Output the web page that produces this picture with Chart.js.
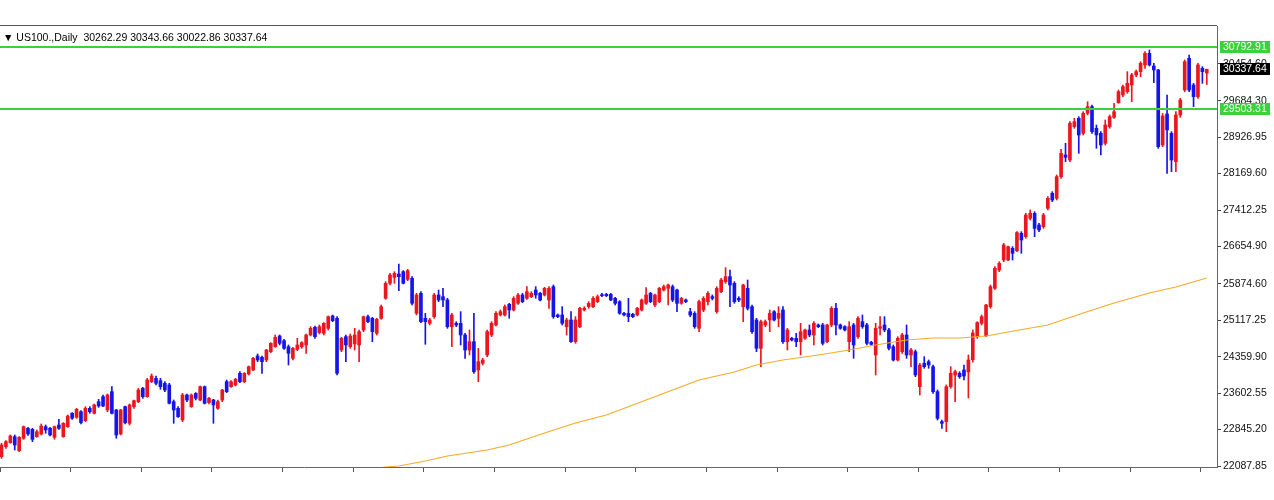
<!DOCTYPE html>
<html><head><meta charset="utf-8">
<script src="https://cdn.jsdelivr.net/npm/chart.js@4.4.0/dist/chart.umd.min.js"></script>
<style>html,body{margin:0;padding:0;background:#fff;}canvas{display:block;}</style>
</head><body>
<canvas id="c" width="1274" height="500"></canvas>
<script>
const symbolTitle = '\u25BC US100.,Daily';

const opens = [22282,22490,22574,22698,22407,22664,22872,22851,22698,22754,22906,22872,22685,22941,22698,22906,23184,23100,23218,23031,
23288,23184,23426,23530,23253,23634,23253,22754,23322,22976,23322,23426,23704,23530,23842,23912,23863,23808,23773,23426,
23288,23045,23565,23322,23600,23461,23738,23406,23461,23288,23461,23842,23738,23773,24016,23842,24002,24085,24376,24349,
24293,24466,24570,24792,24695,24570,24328,24515,24570,24605,24813,24972,24862,24848,24952,25208,25160,24501,24778,24570,
24626,24605,24917,25194,25160,24848,25160,25576,25888,26012,26082,26130,25971,25992,25264,25680,25160,25056,25194,25645,
25610,25541,24986,25056,25056,24813,24501,24674,24085,24224,24397,24813,25021,25229,25229,25451,25333,25472,25645,25576,
25610,25749,25680,25645,25541,25818,25229,25229,24986,25125,24674,24986,25333,25402,25402,25506,25645,25659,25659,25576,
25506,25264,25264,25243,25229,25333,25472,25680,25437,25506,25749,25784,25818,25749,25472,25541,25298,25264,24952,25333,
25506,25610,25298,25714,25922,26026,25888,25576,25402,25784,25402,25125,24536,25021,25125,25298,25160,25333,24674,24744,
24744,24674,24744,24917,24813,25021,25021,24674,25021,25368,25021,24986,24674,25021,24778,25090,25021,24660,24397,24952,
25021,24917,24570,24293,24466,24813,24397,24466,23738,24224,24258,24154,23634,23010,23010,23738,23981,24016,24085,24044,
24300,24778,25056,24800,25402,25784,26165,26373,26373,26616,26567,26928,26858,27240,27344,27101,27066,27448,27760,27656,
28106,28557,28453,29146,29320,29008,29424,29562,29112,29008,28800,29146,29340,29645,29805,29874,30013,30221,30290,30429,
30672,30408,30325,28765,29410,29008,28418,29389,29909,30568,30013,29770,30360,30262.29];

const highs = [22560,22615,22733,22733,22698,22920,22892,22872,22837,22962,22941,22892,22920,23059,22990,23149,23198,23288,23239,23322,
23322,23378,23475,23565,23586,23738,23267,23267,23336,23378,23461,23704,23724,23912,24002,23960,23912,23842,23808,23461,
23322,23600,23586,23586,23614,23752,23752,23517,23475,23461,23683,23877,23863,23912,24050,24030,24168,24349,24418,24376,
24515,24653,24813,24813,24723,24605,24556,24744,24674,24834,24986,25000,25021,25069,25208,25229,25194,24764,24813,24834,
24952,24917,25208,25229,25181,25160,25437,25922,26096,26130,26290,26151,26179,26026,25680,25714,25264,25160,25680,25749,
25784,25576,25264,25090,25298,24848,24917,25264,24536,24328,24917,25090,25298,25333,25437,25472,25610,25680,25680,25818,
25714,25818,25700,25804,25818,25853,25250,25402,25160,25298,25194,25388,25402,25506,25610,25645,25680,25680,25680,25596,
25527,25284,25576,25264,25388,25562,25797,25700,25666,25804,25853,25874,25853,25770,25596,25562,25368,25298,25541,25610,
25714,25645,25818,25992,26214,26165,25922,25610,25870,25957,25437,25160,25125,25125,25333,25319,25402,25402,24952,24764,
24848,25056,24938,25021,25090,25042,25056,25042,25402,25472,25042,25007,25090,25056,25194,25229,25056,24681,25056,25194,
25194,24952,24605,24778,24848,25021,24536,24501,24224,24362,24293,24189,23669,23045,23773,24154,24085,24050,24189,24397,
24917,25090,25229,25450,25853,26234,26338,26720,26664,26650,26962,26962,27344,27413,27378,27136,27344,27690,27794,28141,
28675,28800,29250,29320,29354,29458,29666,29597,29181,29042,29285,29389,29632,29909,30013,30290,30256,30325,30498,30706,
30741,30464,30339,29420,29805,29042,29458,29736,30533,30637,30048,30464,30394,30343.66];

const lows = [22248,22456,22560,22421,22386,22643,22726,22594,22685,22733,22768,22712,22643,22851,22685,22892,23059,23080,22962,23010,
23184,23170,23308,23322,23218,23170,22664,22733,22962,22941,23288,23406,23496,23517,23822,23773,23683,23634,23378,22976,
23100,23010,23426,23308,23461,23447,23378,23378,22976,23267,23426,23614,23724,23752,23822,23822,23981,24071,24258,24016,
24258,24446,24556,24605,24515,24189,24293,24487,24536,24432,24792,24744,24834,24813,24917,25090,23981,24466,24258,24536,
24501,24258,24882,25069,24674,24813,25139,25555,25853,25888,25735,25874,25943,25437,25229,25069,24619,25021,25160,25506,
25402,24952,24570,24986,24605,24328,24397,24016,23842,24189,24362,24778,25000,25208,25208,25160,25312,25451,25486,25555,
25590,25576,25520,25624,25368,25160,25173,25021,24813,24660,24640,24966,25312,25368,25381,25486,25610,25610,25527,25437,
25243,25208,25090,25173,25208,25312,25451,25486,25402,25486,25728,25437,25506,25298,25451,25486,25194,24952,24882,25298,
25437,25541,25264,25694,25888,25402,25472,25506,25090,25333,24848,24466,24154,24986,24882,25104,24986,24640,24501,24688,
24570,24397,24723,24778,24605,24966,24605,24653,24986,24813,24931,24896,24466,24328,24744,24952,24605,24598,23981,24813,
24882,24501,24272,24272,24432,24328,24154,23946,23565,24120,24120,23600,23045,22872,22802,23704,23426,23912,23877,23503,
24250,24744,25021,24778,25368,25763,26130,26338,26359,26373,26546,26512,26824,27205,26858,26962,27031,27413,27586,27621,
28072,28418,28418,29112,28592,28973,29389,29008,28696,28557,28765,29112,29320,29632,29770,29840,29666,30186,30186,30360,
30408,30062,28696,28730,28176,28210,28210,29340,29874,29874,29562,29736,30048,30022.86];

const closes = [22525,22594,22712,22525,22685,22906,22754,22643,22802,22920,22837,22733,22906,22872,22976,23128,23080,23267,22990,23288,
23218,23357,23336,23336,23565,23184,22733,23253,22990,23357,23447,23669,23530,23877,23960,23808,23738,23669,23392,23253,
23114,23565,23461,23565,23496,23738,23392,23496,23357,23426,23669,23634,23842,23891,23842,24016,24154,24328,24293,24258,
24501,24640,24764,24640,24536,24432,24536,24605,24653,24813,24952,24778,24986,25056,25194,25111,24016,24744,24605,24792,
24813,24882,25194,25090,24882,25139,25402,25888,26061,26096,26026,25888,26151,25472,25645,25090,25090,25125,25645,25541,
25541,24986,25229,25021,24813,24501,24674,24050,24258,24293,24882,25056,25264,25298,25402,25333,25576,25645,25506,25714,
25680,25645,25541,25784,25784,25194,25194,25056,25125,24674,25125,25368,25368,25472,25576,25610,25631,25631,25541,25472,
25264,25229,25194,25194,25368,25541,25645,25506,25645,25784,25818,25853,25541,25472,25576,25506,25229,24986,25506,25576,
25680,25576,25784,25957,26026,25853,25506,25541,25853,25368,24882,24536,25090,25090,25264,25125,25264,24674,24917,24709,
24674,24882,24917,24813,25056,24986,24640,25021,25368,25021,24952,24917,24986,24605,25160,24986,24640,24619,24952,24986,
24917,24536,24293,24744,24813,24397,24501,23981,24189,24154,24189,23634,23080,22976,23738,24016,24050,23946,23960,24293,
24855,25070,25194,25437,25818,26200,26304,26685,26650,26512,26942,26789,27309,27344,27031,26997,27309,27656,27621,28106,
28592,28508,29216,29250,28973,29424,29562,29042,28973,28765,29181,29354,29458,29874,29978,30048,30221,30290,30464,30672,
30429,30325,28730,29368,29077,28453,29389,29701,30498,29909,29770,30429,30290,30337.64];

const maIndex = [82,87,90,96,101,110,115,123,130,137,143,149,155,158,166,171,177,185,192,198,205,211,217,223,228,237,245,252,260,266,273];
const maValues = [21990,22067,22088,22192,22296,22421,22525,22774,22982,23149,23357,23565,23773,23877,24043,24189,24293,24397,24501,24605,24709,24750,24750,24792,24875,25020,25270,25478,25686,25811,25998];

const priceTicks = [30454.60,29684.30,28926.95,28169.60,27412.25,26654.90,25874.60,25117.25,24359.90,23602.55,22845.20,22087.85];
const levelLines = [30792.91, 29503.31];
const barsPerTimeTick = 16;

const UP = 'rgb(236,22,30)';
const DOWN = 'rgb(20,20,235)';
const LEVEL = 'rgb(60,208,60)';
const colors = closes.map((c, i) => c >= opens[i] ? UP : DOWN);
const bodyData = opens.map((o, i) => ({x: i, y: [o, closes[i]]}));
const wickData = lows.map((l, i) => ({x: i, y: [l, highs[i]]}));
const maData = maIndex.map((ix, k) => ({x: ix, y: maValues[k]}));

const FONT = '"Liberation Sans", Arial, sans-serif';
const last = closes.length - 1;

const overlay = {
  id: 'overlay',
  afterDraw(chart) {
    const {ctx, chartArea: a, scales: {y}} = chart;
    ctx.save();
    // level lines
    ctx.fillStyle = LEVEL;
    levelLines.forEach(v => {
      const py = Math.round(y.getPixelForValue(v));
      ctx.fillRect(a.left, py - 1, a.right - a.left, 2);
    });
    // top frame
    ctx.fillStyle = '#555';
    ctx.fillRect(0, a.top - 1, a.right, 1);
    // header
    ctx.fillStyle = '#000';
    ctx.font = '10.5px ' + FONT;
    ctx.textBaseline = 'middle';
    ctx.textAlign = 'left';
    const hdr = symbolTitle + '  ' + [opens[last], highs[last], lows[last], closes[last]].map(v => v.toFixed(2)).join(' ');
    ctx.fillText(hdr, 3, 38);
    // price boxes
    const box = (v, bg) => {
      const py = Math.round(y.getPixelForValue(v));
      ctx.fillStyle = bg;
      ctx.fillRect(a.right + 3, py - 6, 50, 12);
      ctx.fillStyle = '#fff';
      ctx.fillText(v.toFixed(2), a.right + 6, py + 0.5);
    };
    levelLines.forEach(v => box(v, LEVEL));
    box(closes[last], '#000');
    ctx.restore();
  }
};

new Chart(document.getElementById('c'), {
  type: 'bar',
  data: {
    datasets: [
      {type: 'line', data: maData, borderColor: 'rgb(247,170,40)', borderWidth: 1.2, pointRadius: 0, tension: 0, order: 1},
      {type: 'bar', data: bodyData, backgroundColor: colors, barThickness: 3, grouped: false, minBarLength: 1, borderWidth: 0, order: 2},
      {type: 'bar', data: wickData, backgroundColor: colors, barThickness: 1, grouped: false, borderWidth: 0, order: 3}
    ]
  },
  options: {
    responsive: false,
    devicePixelRatio: 1,
    animation: false,
    events: [],
    layout: {padding: {top: 26, left: 0, right: 0, bottom: 0}},
    plugins: {legend: {display: false}, tooltip: {enabled: false}, title: {display: false}},
    scales: {
      x: {
        type: 'linear', offset: false,
        min: -0.34, max: -0.34 + 1217 / 4.415,
        afterBuildTicks(s) { const t = []; for (let v = s.min; v <= s.max; v += barsPerTimeTick) t.push({value: v}); s.ticks = t; },
        afterFit(s) { s.height = 33; s.paddingLeft = 0; s.paddingRight = 0; },
        grid: {offset: false, drawOnChartArea: false, drawTicks: true, tickLength: 5, color: '#555'},
        border: {display: true, color: '#666'},
        ticks: {autoSkip: false, maxRotation: 0, padding: 0, callback: () => ''}
      },
      y: {
        position: 'right',
        min: 22067.05, max: 31239.85,
        afterBuildTicks(s) { s.ticks = priceTicks.map(v => ({value: v})); },
        afterFit(s) { s.width = 57; },
        grid: {drawOnChartArea: false, drawTicks: true, tickLength: 4, color: '#444'},
        border: {display: true, color: '#666'},
        ticks: {autoSkip: false, padding: 2, color: '#111', font: {family: FONT, size: 10.5}, callback: v => Number(v).toFixed(2)}
      }
    }
  },
  plugins: [overlay]
});
</script>
</body></html>
